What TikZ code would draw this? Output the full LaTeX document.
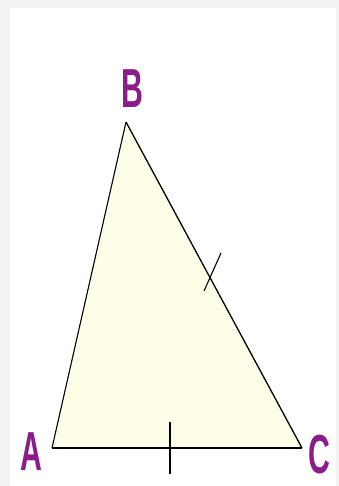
\documentclass[tikz,border=0pt]{standalone}
\usepackage{fontspec}
\setmainfont{Liberation Sans}
\definecolor{lbl}{RGB}{140,28,140}
\definecolor{cream}{RGB}{254,254,232}
\definecolor{frame}{RGB}{242,242,242}
\begin{document}
\begin{tikzpicture}[x=1pt,y=-1pt,
  vlabel/.style={text=lbl,font=\fontsize{55}{55}\selectfont\bfseries,inner sep=0pt,xscale=0.55},
  edge/.style={draw=black,line width=1.3pt},
  tick/.style={draw=black,line width=1.1pt}]
\fill[frame] (0,0) rectangle (339,486);
\fill[white] (10,8) rectangle (336,486);
\useasboundingbox (0,0) rectangle (339,486);
\coordinate (A) at (52,448);
\coordinate (B) at (126,122);
\coordinate (C) at (302,448);
\fill[cream] (A) -- (B) -- (C) -- cycle;
\draw[edge,line width=1.1pt] (A) -- (B);
\draw[edge] (B) -- (C);
\draw[edge,line width=1.8pt] (A) -- (C);
\coordinate (t1a) at (170,422);
\coordinate (t1b) at (170,474);
\draw[tick] (t1a) -- (t1b);
\coordinate (t2a) at (221,253);
\coordinate (t2b) at (204,291);
\draw[tick] (t2a) -- (t2b);
\node[vlabel] (lB) at (132,89) {B};
\node[vlabel] (lA) at (31,452) {A};
\node[vlabel] (lC) at (319,455) {C};
\end{tikzpicture}
\end{document}
